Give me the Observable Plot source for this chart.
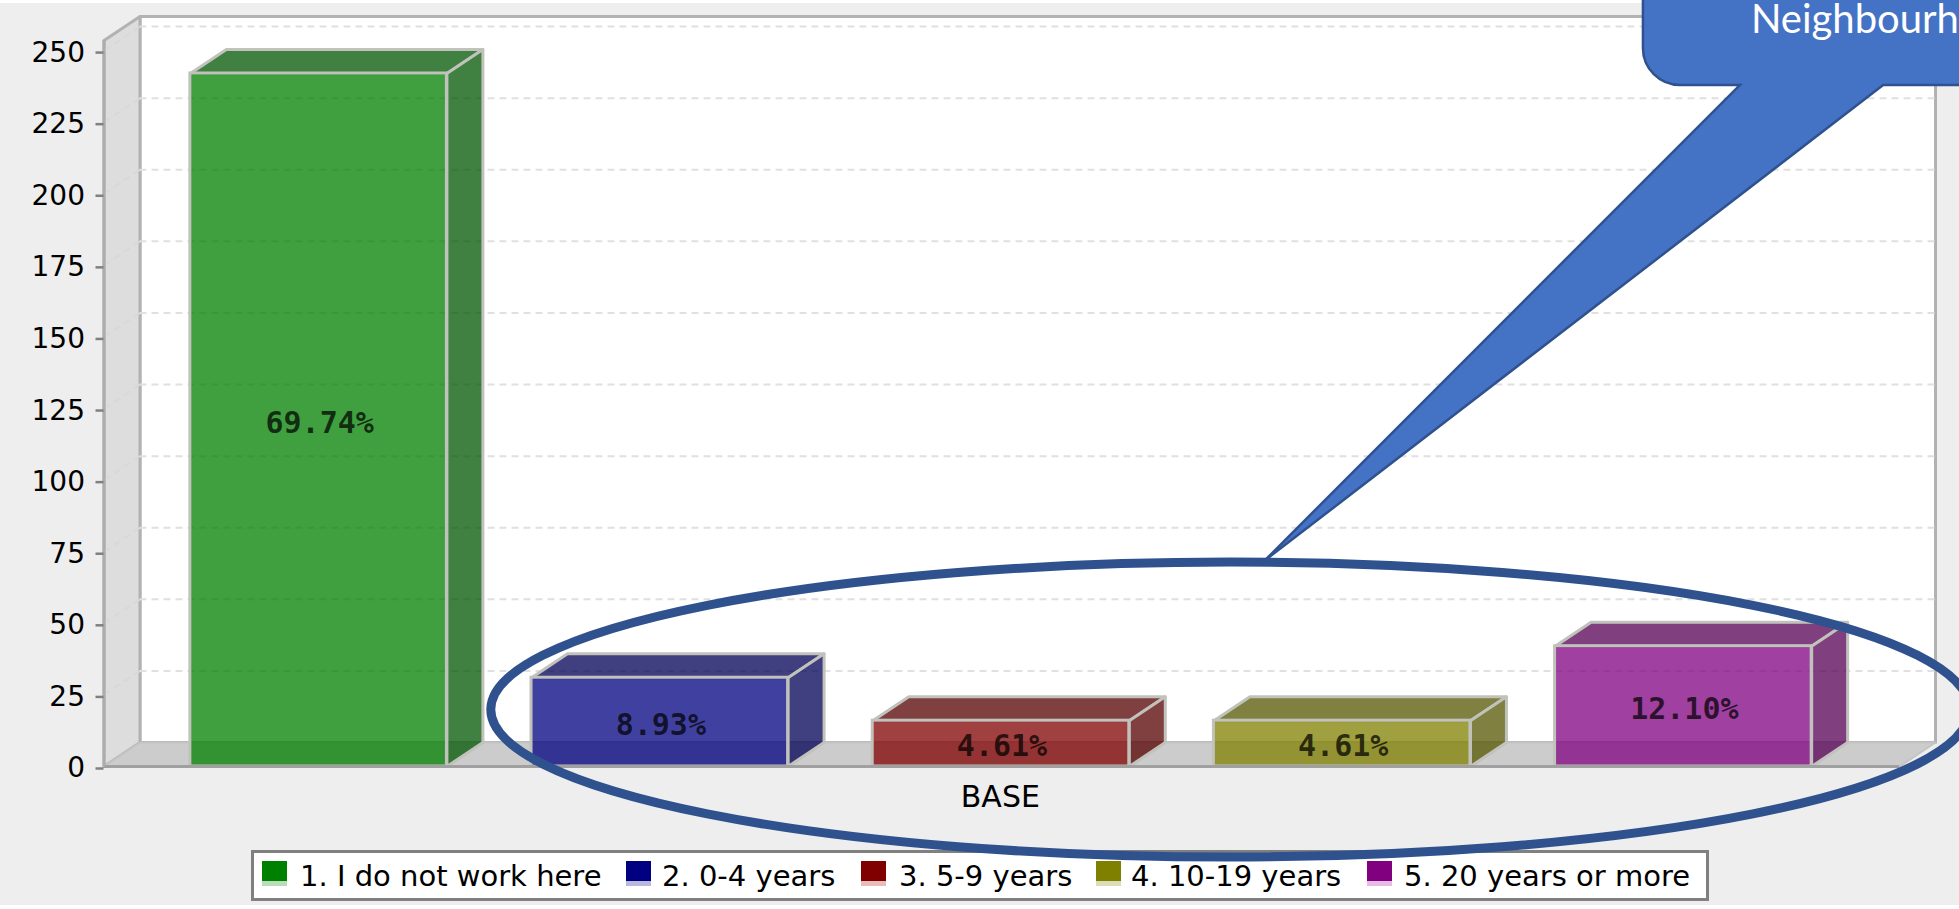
<!DOCTYPE html>
<html>
<head>
<meta charset="utf-8">
<script src="https://cdn.jsdelivr.net/npm/d3@7"></script>
<script src="https://cdn.jsdelivr.net/npm/@observablehq/plot@0.6"></script>
<style>
  html, body { margin: 0; padding: 0; background: #fff; overflow: hidden; width: 1959px; height: 909px; }
  #bg { position: absolute; left: 0; top: 3px; width: 1959px; height: 902px; background: #eeeeee; }
  #legend { position: absolute; left: 251px; top: 850px; width: 1452px; height: 45px; background: #fff; border: 3px solid #808080;
            font: 29px "DejaVu Sans", sans-serif; color: #000; }
  #legend .sw { position: absolute; top: 8px; width: 25px; height: 20px; border-bottom: 5px solid; box-sizing: content-box; }
  #legend .tx { position: absolute; top: 7px; white-space: nowrap; line-height: 32px; }
  #chart { position: absolute; left: 0; top: 0; z-index: 2; }
</style>
</head>
<body>
<div id="bg"></div>
<div id="legend"></div>
<div id="chart"></div>
<script>
// ---- data ----
const categories = ["1. I do not work here", "2. 0-4 years", "3. 5-9 years", "4. 10-19 years", "5. 20 years or more"];
const counts = [242, 31, 16, 16, 42];
const percents = ["69.74%", "8.93%", "4.61%", "4.61%", "12.10%"];
const frontColors = ["#008000", "#000080", "#800000", "#808000", "#800080"];
const depthColors = ["#005500", "#000055", "#550000", "#555500", "#550055"];
const swatchFade = ["#b9dcb9", "#b9b9dc", "#e6bcbc", "#dcdcb9", "#e6bce6"];
const yTicks = [0, 25, 50, 75, 100, 125, 150, 175, 200, 225, 250];
const xLabel = "BASE";
const calloutText = "Neighbourhood";

// ---- layout (slots on x, counts on y) ----
const W = 1959, H = 909;
const barWidth = 0.752;
const barStart = 0.004;
const depthX = 0.1055, depthY = 8.38;   // extrusion of the 3D box in scale units
const xDomain = [-0.2491, 5.119];
const yDomain = [0, 261.9];
const [xL, xR] = xDomain;
const yT = yDomain[1];
const yFront = yT - depthY;

const poly = pts => pts.concat([pts[0]]).map(([x, y]) => ({x, y}));
const face = (pts, o) => Plot.line(poly(pts), {x: "x", y: "y", curve: "linear", ...o});
const edge = "#c2c2bc";
const frame = "#b2b2b2";

const bars = counts.flatMap((v, i) => {
  const x1 = i + barStart, x2 = i + barStart + barWidth;
  return [
    face([[x1, v], [x1 + depthX, v + depthY], [x2 + depthX, v + depthY], [x2, v]],
         {fill: depthColors[i], fillOpacity: 0.75, stroke: edge, strokeWidth: 3}),
    face([[x2, 0], [x2 + depthX, depthY], [x2 + depthX, v + depthY], [x2, v]],
         {fill: depthColors[i], fillOpacity: 0.75, stroke: edge, strokeWidth: 3}),
    Plot.rect([v], {x1: () => x1, x2: () => x2, y1: () => 0, y2: d => d,
         fill: frontColors[i], fillOpacity: 0.75, stroke: edge, strokeWidth: 3})
  ];
});

// Annotations drawn through the scales
const callout = (index, scales, values, dim, ctx) => {
  const sx = scales.x, sy = scales.y;
  const X = s => sx(s), Y = v => sy(v);
  const g = d3.create("svg:g");
  // ellipse
  g.append("ellipse")
    .attr("cx", X(3.053)).attr("cy", Y(19.7))
    .attr("rx", X(3.053 + 2.167) - X(3.053)).attr("ry", Y(19.7) - Y(19.7 + 51.5))
    .attr("fill", "none").attr("stroke", "#2f528f").attr("stroke-width", 9);
  // speech bubble
  const left = X(4.263), bottom = Y(237.8), r = 37;
  const p = `M${left},${-30} L${left},${bottom - r} A${r},${r} 0 0 0 ${left + r},${bottom}
             L${X(4.547)},${bottom} L${X(3.153)},${Y(71.6)} L${X(4.967)},${bottom} L${W + 40},${bottom} L${W + 40},${-30} Z`;
  g.append("path").attr("d", p).attr("fill", "#4472c4").attr("stroke", "#2f528f").attr("stroke-width", 2.5);
  return g.node();
};

const plot = Plot.plot({
  width: W, height: H,
  marginLeft: 103.5, marginRight: 24, marginTop: 16, marginBottom: 143,
  x: {type: "linear", domain: xDomain},
  y: {type: "linear", domain: yDomain},
  style: {background: "transparent", overflow: "visible", fontFamily: "DejaVu Sans", color: "#000"},
  marks: [
    // back wall, side wall, floor
    face([[xL + depthX, depthY], [xR, depthY], [xR, yT], [xL + depthX, yT]], {fill: "#ffffff", stroke: frame, strokeWidth: 3}),
    face([[xL, 0], [xL + depthX, depthY], [xL + depthX, yT], [xL, yFront]], {fill: "#dddddd", stroke: frame, strokeWidth: 3}),
    face([[xL, 0], [xL + depthX, depthY], [xR, depthY], [xR - depthX, 0]], {fill: "#cccccc", stroke: "#c4c4c4", strokeWidth: 2}),
    // grid
    Plot.ruleY(yTicks.slice(1), {y: d => d + depthY, x1: xL + depthX, x2: xR, stroke: "#e0e0e0", strokeWidth: 2, strokeDasharray: "7,5"}),
    Plot.link(yTicks.slice(1), {x1: xL, x2: xL + depthX, y1: d => d, y2: d => d + depthY, stroke: "#d8d8d8", strokeWidth: 2, strokeDasharray: "7,5"}),
    ...bars,
    // base line and axes
    Plot.ruleY([0], {x1: xL, x2: xR - depthX, stroke: "#a0a0a0", strokeWidth: 3}),
    Plot.ruleX([xL], {y1: 0, y2: yFront, stroke: "#acacac", strokeWidth: 3}),
    Plot.axisY({ticks: yTicks, tickSize: 8, tickPadding: 11, label: null, fontSize: 28, stroke: "#808080", strokeWidth: 2.5, fill: "#000", tickFormat: d => d, dy: 2}),
    Plot.axisX({ticks: [2.378], tickFormat: () => xLabel, tickSize: 0, tickPadding: 19, label: null, fontSize: 30, fill: "#000"}),
    // percentages
    Plot.text(counts, {x: (d, i) => i + barStart + barWidth / 2, y: d => d / 2, text: (d, i) => percents[i], dy: 3, dx: 1,
      fontFamily: "DejaVu Sans Mono", fontWeight: "bold", fontSize: 30, fill: "#000", fillOpacity: 0.72}),
    // annotation
    callout,
    Plot.text([calloutText], {x: () => 4.578, y: () => 256.3, text: d => d, textAnchor: "start", lineAnchor: "bottom",
      fontFamily: "Lato", fontSize: 40, fill: "#ffffff"})
  ]
});
document.getElementById("chart").append(plot);

// ---- legend (below the chart in the page's stacking) ----
const swatchX = [8, 372, 607, 842, 1113];
const textX = [46, 408, 645, 877, 1150];
const legend = d3.select("#legend");
categories.forEach((c, i) => {
  legend.append("div").attr("class", "sw")
    .style("left", swatchX[i] + "px").style("background", frontColors[i]).style("border-bottom-color", swatchFade[i]);
  legend.append("div").attr("class", "tx").style("left", textX[i] + "px").text(c);
});
</script>
</body>
</html>
